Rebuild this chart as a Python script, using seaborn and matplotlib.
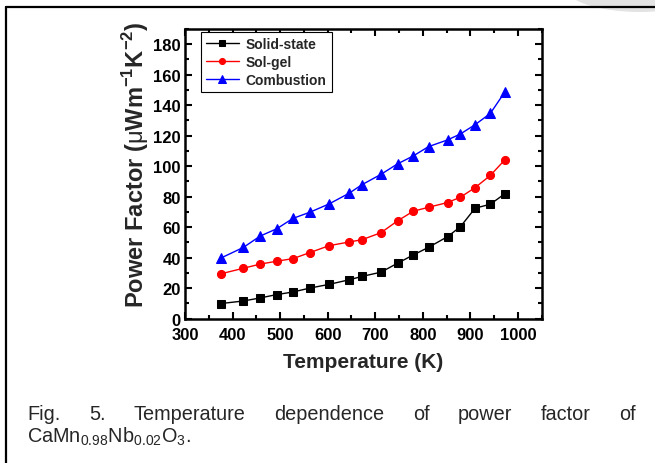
import numpy as np
import pandas as pd
import seaborn as sns
import matplotlib
matplotlib.use("Agg")
import matplotlib.pyplot as plt
from matplotlib.lines import Line2D
from matplotlib.patches import Ellipse
from matplotlib.ticker import MultipleLocator

# ---- data ----
temperature = [375, 423, 458, 493, 527, 563, 603, 645, 672, 712, 747, 780, 812, 852, 879, 910, 942, 973]
solid_state = [9.8, 11.5, 13.5, 15.7, 17.4, 20.0, 22.4, 25.4, 27.6, 30.4, 36.3, 41.7, 46.7, 53.7, 60.2, 72.4, 75.0, 82.0]
sol_gel = [29.3, 33.0, 35.7, 37.6, 39.3, 43.3, 47.8, 50.2, 51.7, 56.3, 64.1, 70.4, 73.0, 76.1, 79.6, 85.9, 93.9, 104.3]
combustion = [39.6, 46.7, 54.1, 58.9, 65.7, 69.8, 75.2, 82.2, 87.8, 94.6, 101.5, 106.7, 112.8, 117.2, 121.1, 127.2, 134.6, 148.9]
series_names = ["Solid-state", "Sol-gel", "Combustion"]
x_ticks = [300, 400, 500, 600, 700, 800, 900, 1000]
y_ticks = [0, 20, 40, 60, 80, 100, 120, 140, 160, 180]

df = pd.concat([
    pd.DataFrame({"T": temperature, "PF": solid_state, "method": series_names[0]}),
    pd.DataFrame({"T": temperature, "PF": sol_gel, "method": series_names[1]}),
    pd.DataFrame({"T": temperature, "PF": combustion, "method": series_names[2]}),
], ignore_index=True)

sns.set_theme(style="ticks")
plt.rcParams["font.family"] = ["Liberation Sans", "DejaVu Sans"]
plt.rcParams["mathtext.fontset"] = "custom"
plt.rcParams["mathtext.rm"] = "Liberation Sans"
plt.rcParams["mathtext.bf"] = "Liberation Sans:bold"

fig = plt.figure(figsize=(6.55, 4.64), dpi=100)
ax = fig.add_axes([185 / 655, 1 - 319.5 / 464, 356.7 / 655, 289.5 / 464])

palette = {"Solid-state": "#000000", "Sol-gel": "#ff0000", "Combustion": "#0000ff"}
markers = {"Solid-state": "s", "Sol-gel": "o", "Combustion": "^"}
sns.lineplot(data=df, x="T", y="PF", hue="method", style="method",
             palette=palette, markers=markers, dashes=False, ax=ax,
             linewidth=1.0, markersize=6, hue_order=series_names, style_order=series_names)

sizes = {"s": 5.2, "o": 5.8, "^": 6.8}
for ln in ax.lines:
    ln.set_markeredgecolor(ln.get_color())
    m = ln.get_marker()
    if m in sizes:
        ln.set_markersize(sizes[m])

handles, labels = ax.get_legend_handles_labels()
leg = ax.legend(handles, labels, loc="upper left", bbox_to_anchor=(0.044, 0.99),
                borderaxespad=0, fancybox=False, edgecolor="black", framealpha=1,
                prop={"weight": "bold", "size": 10}, borderpad=0.35,
                labelspacing=0.3, handlelength=2.4, handletextpad=0.5, markerscale=0.75)
leg.get_frame().set_linewidth(0.8)
for h in leg.legend_handles:
    h.set_markeredgecolor(h.get_color())

ax.set_xlim(300, 1050)
ax.set_ylim(0, 190)
ax.set_xticks(x_ticks)
ax.set_yticks(y_ticks)
ax.xaxis.set_minor_locator(MultipleLocator(50))
ax.yaxis.set_minor_locator(MultipleLocator(10))
ax.tick_params(which="both", direction="in", top=True, right=True, width=1.5, colors="black")
ax.tick_params(which="major", length=5, labelsize=12)
ax.tick_params(axis="x", which="major", pad=6)
ax.tick_params(axis="y", which="major", pad=3)
ax.tick_params(which="minor", length=3)
for lab in ax.get_xticklabels() + ax.get_yticklabels():
    lab.set_fontweight("bold")
for sp in ax.spines.values():
    sp.set_linewidth(1.8)
    sp.set_color("black")

ax.set_xlabel("Temperature (K)", fontsize=15, fontweight="bold", labelpad=7)
ax.set_ylabel(r"Power Factor ($\mathrm{\mu}$Wm$^{\mathbf{-1}}$K$^{\mathbf{-2}}$)",
              fontsize=17, fontweight="bold")
ax.yaxis.set_label_coords(-0.095, 0.535)

# outer frame lines and watermark
fig.add_artist(Line2D([6 / 655, 6 / 655], [0, 1 - 8 / 464], transform=fig.transFigure, color="black", lw=1.6))
fig.add_artist(Line2D([6 / 655, 1], [1 - 8 / 464, 1 - 8 / 464], transform=fig.transFigure, color="black", lw=1.6))
fig.add_artist(Ellipse((640 / 655, 1 + 12 / 464), 150 / 655, 50 / 464, transform=fig.transFigure,
                       facecolor="#e3e3e3", edgecolor="none", zorder=-1))

# caption, first line justified
words = ["Fig.", "5.", "Temperature", "dependence", "of", "power", "factor", "of"]
cap_size = 14.3
fig.canvas.draw()
renderer = fig.canvas.get_renderer()
texts = [fig.text(0, 1 - 415 / 464, w, fontsize=cap_size, va="center", ha="left") for w in words]
widths = [t.get_window_extent(renderer).width for t in texts]
x0, x1 = 27.0, 636.0
gap = (x1 - x0 - sum(widths)) / (len(words) - 1)
xpos = x0
for t, w in zip(texts, widths):
    t.set_x(xpos / 655)
    xpos += w + gap
fig.text(27 / 655, 1 - 437 / 464, r"CaMn$_{\mathrm{0.98}}$Nb$_{\mathrm{0.02}}$O$_{\mathrm{3}}$.",
         fontsize=cap_size, va="center", ha="left")

fig.savefig("out.png", dpi=100)
